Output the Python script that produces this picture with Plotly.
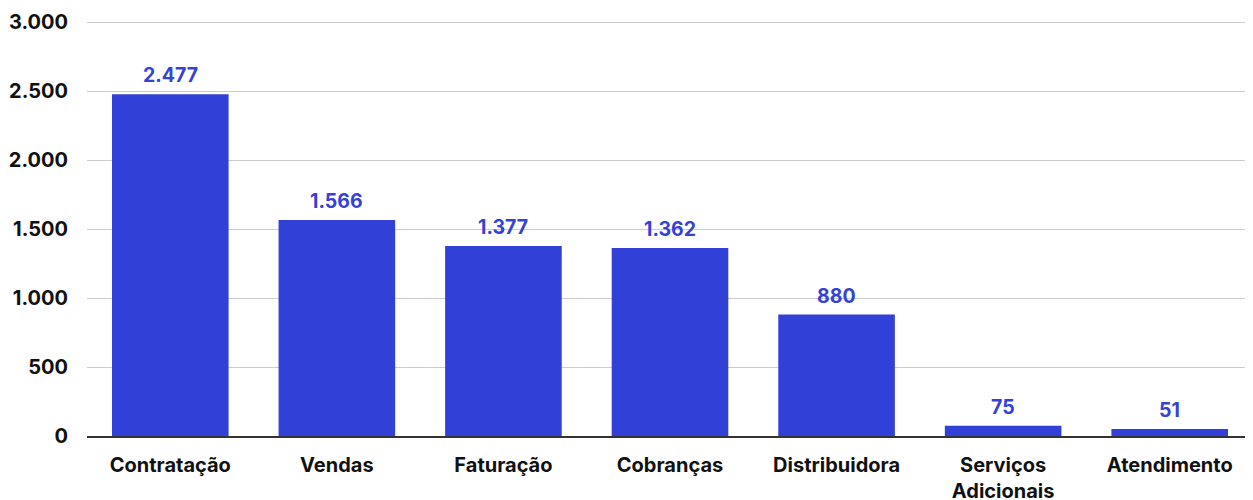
import plotly.graph_objects as go

# categories and values
categories = ['Contratação', 'Vendas', 'Faturação', 'Cobranças', 'Distribuidora',
              'Serviços<br>Adicionais', 'Atendimento']
values = [2477, 1566, 1377, 1362, 880, 75, 51]

bar_color = 'rgb(49,64,214)'
label_color = 'rgb(52,66,216)'

fig = go.Figure()
fig.add_trace(go.Bar(
    x=categories,
    y=values,
    marker=dict(color=bar_color, line=dict(width=0)),
    hoverinfo='x+y',
))

# value labels above the bars
for c, v in zip(categories, values):
    fig.add_annotation(
        x=c, y=v, text=f'{v:,}'.replace(',', '.'),
        showarrow=False, yanchor='bottom', yshift=5,
        font=dict(color=label_color, size=19.5, family='Inter', weight='bold'),
    )

# page body has an 8px margin, so the figure is sized/margined to compensate
fig.update_layout(
    width=1245, height=492,
    margin=dict(l=79, r=0, t=10, b=64),
    plot_bgcolor='white', paper_bgcolor='white',
    separators=',.',
    bargap=0.3,
    showlegend=False,
    font=dict(family='Inter', color='#111111'),
    xaxis=dict(
        showline=True, linecolor='#333333', linewidth=1.5,
        showgrid=False, ticks='', automargin=False,
        ticklabelstandoff=10,
        tickfont=dict(size=20, weight='bold', color='#111111'),
    ),
    yaxis=dict(
        range=[0, 3030], dtick=500, tickformat=',',
        showgrid=True, gridcolor='#cccccc', gridwidth=1,
        zeroline=False, ticks='', automargin=False,
        ticklabelstandoff=18,
        tickfont=dict(size=20, weight='bold', color='#111111'),
    ),
)

fig.write_html('out.html')
